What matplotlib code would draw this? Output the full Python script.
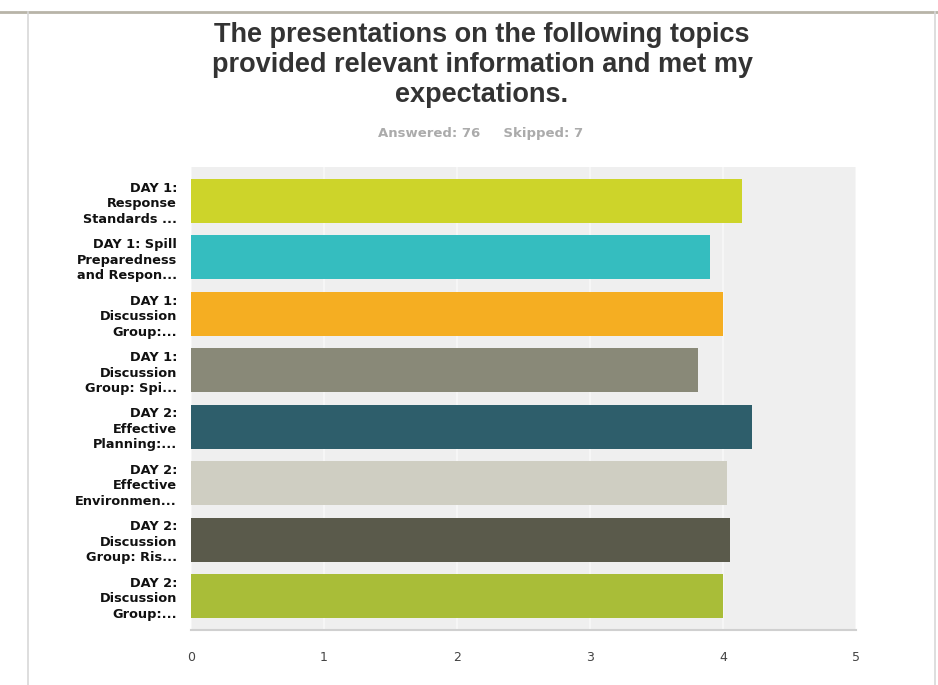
import matplotlib
matplotlib.use('agg')
import matplotlib.pyplot as plt
from matplotlib.lines import Line2D

topics = ['DAY 1:\nResponse\nStandards ...',
          'DAY 1: Spill\nPreparedness\nand Respon...',
          'DAY 1:\nDiscussion\nGroup:...',
          'DAY 1:\nDiscussion\nGroup: Spi...',
          'DAY 2:\nEffective\nPlanning:...',
          'DAY 2:\nEffective\nEnvironmen...',
          'DAY 2:\nDiscussion\nGroup: Ris...',
          'DAY 2:\nDiscussion\nGroup:...']
scores = [4.14, 3.90, 4.00, 3.81, 4.22, 4.03, 4.05, 4.00]
colors = ['#CDD42A', '#35BDBF', '#F5AE22', '#898978',
          '#2E5E6B', '#CFCEC2', '#5A5A4B', '#A9BD38']
xticks = [0, 1, 2, 3, 4, 5]

fig = plt.figure(figsize=(9.38, 6.85), dpi=100)

# screenshot frame
fig.add_artist(Line2D([0.0, 1.0], [1 - 12/685, 1 - 12/685], color='#b8b4a8', lw=2))
fig.add_artist(Line2D([28/938, 28/938], [0, 1 - 12/685], color='#d8d8d8', lw=1.2))
fig.add_artist(Line2D([935/938, 935/938], [0, 1 - 12/685], color='#d8d8d8', lw=1.2))

ax = fig.add_axes([191/938, 1 - 630/685, 665/938, 463/685])
ax.set_facecolor('#efefef')
ypos = list(range(len(topics)))
ax.barh(ypos, scores, height=0.78, color=colors, zorder=3)
ax.set_xlim(0, 5)
ax.set_ylim(7.6, -0.6)
ax.set_xticks(xticks)
ax.set_xticklabels([str(t) for t in xticks])
ax.grid(axis='x', color='#f8f8f8', lw=1.2, zorder=1)
ax.set_yticks(ypos)
ax.set_yticklabels(topics, fontweight='bold', fontsize=9.3, linespacing=1.25, color='#111111')
ax.tick_params(axis='y', length=0, pad=10)
ax.tick_params(axis='x', length=0, pad=15, labelsize=9, labelcolor='#444444')
for s in ['top', 'right', 'left']:
    ax.spines[s].set_visible(False)
ax.spines['bottom'].set_color('#d0d0d0')
ax.spines['bottom'].set_linewidth(1.5)

fig.text(482/938, 1 - 65/685,
         'The presentations on the following topics\nprovided relevant information and met my\nexpectations.',
         ha='center', va='center', fontsize=19.5, fontweight='bold', color='#333333',
         family='Liberation Sans', linespacing=1.22)
fig.text(481/938, 1 - 133/685, 'Answered: 76     Skipped: 7', ha='center', va='center',
         fontsize=9.5, fontweight='bold', color='#ababab', family='DejaVu Sans')

plt.savefig('out.png', dpi=100)
